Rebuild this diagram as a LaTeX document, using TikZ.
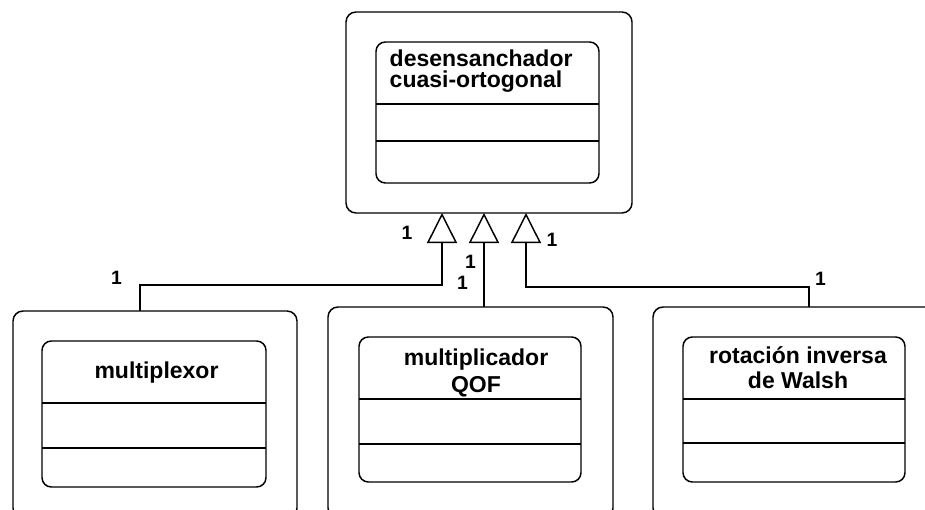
\documentclass[tikz,border=0pt]{standalone}
\usepackage{fontspec}
\setmainfont{Liberation Sans}
\usetikzlibrary{arrows.meta}
\begin{document}
\begin{tikzpicture}[x=0.75pt,y=-0.75pt,line width=1.1pt,
  outerbox/.style={draw,rounded corners=7.5pt,inner sep=0pt,outer sep=0pt},
  classbox/.style={draw,rounded corners=7pt,inner sep=0pt,outer sep=0pt},
  cname/.style={inner sep=0pt,font=\bfseries\fontsize{17.25}{#1}\selectfont},
  cname/.default=15.75,
  mult/.style={inner sep=0pt,font=\bfseries\fontsize{14.5}{16}\selectfont},
  inherit/.style={-{Triangle[open,length=22.5pt,width=22.5pt]}}]
\useasboundingbox (0,0) rectangle (925,510);
\clip (0,0) rectangle (925,510);

% superclass
\node[outerbox,minimum width=214.5pt,minimum height=150.75pt] (up) at (489,112.5) {};
\node[classbox,minimum width=167.25pt,minimum height=105.75pt] (upc) at (487.5,112.5) {};
\draw (upc.west |- 0,104) -- (upc.east |- 0,104);
\draw (upc.west |- 0,141) -- (upc.east |- 0,141);
\node[cname,align=left,anchor=base west] (upt) at (389,87.5) {desensanchador\\cuasi-ortogonal};

% subclass: multiplexor
\node[outerbox,minimum width=213pt,minimum height=155.25pt] (lo) at (155,414.5) {};
\node[classbox,minimum width=168pt,minimum height=109.5pt] (lc) at (154,414) {};
\draw (lc.west |- 0,403) -- (lc.east |- 0,403);
\draw (lc.west |- 0,448) -- (lc.east |- 0,448);
\node[cname,anchor=base] (lt) at (156.5,378) {multiplexor};

% subclass: multiplicador QOF
\node[outerbox,minimum width=213.75pt,minimum height=158.25pt] (mo) at (470.5,412.5) {};
\node[classbox,minimum width=166.5pt,minimum height=108.75pt] (mc) at (470,409.5) {};
\draw (mc.west |- 0,399) -- (mc.east |- 0,399);
\draw (mc.west |- 0,444) -- (mc.east |- 0,444);
\node[cname=19.9,align=center,anchor=base] (mt) at (476,392) {multiplicador\\QOF};

% subclass: rotacion inversa de Walsh
\node[outerbox,minimum width=215.25pt,minimum height=158.25pt] (ro) at (796.5,412.5) {};
\node[classbox,minimum width=166.5pt,minimum height=108.75pt] (rc) at (794,409.5) {};
\draw (rc.west |- 0,399) -- (rc.east |- 0,399);
\draw (rc.west |- 0,443) -- (rc.east |- 0,443);
\node[cname=18.75,align=center,anchor=base] (rt) at (798,388) {rotación inversa\\de Walsh};

% generalisations
\draw[inherit] (140,0 |- lo.north) |- (442,285) -- (442,0 |- up.south);
\draw[inherit] (484,0 |- mo.north) -- (484,0 |- up.south);
\draw[inherit] (809,0 |- ro.north) |- (526,287) -- (526,0 |- up.south);

% multiplicities
\node[mult] (m1) at (407,232.5) {1};
\node[mult] (m2) at (470.5,261.5) {1};
\node[mult] (m3) at (462.5,282.5) {1};
\node[mult] (m4) at (552,240) {1};
\node[mult] (m5) at (116.5,277.5) {1};
\node[mult] (m6) at (820.5,279) {1};
\end{tikzpicture}
\end{document}
